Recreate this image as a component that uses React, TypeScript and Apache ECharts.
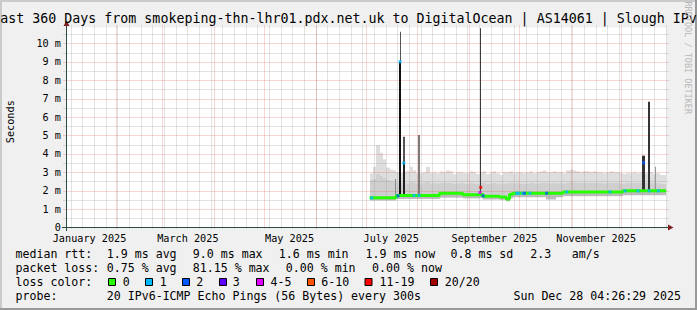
import React, { useEffect, useRef } from 'react';
import * as echarts from 'echarts';

// ---------------- data ----------------
const RANGE_START = '2025-01-02 04:26:29';
const RANGE_END = '2025-12-28 04:26:29';
const SMOKE_FIRST_BIN = '2025-07-03 00:00';
const SMOKE_BIN_DAYS = 2;

// upper edge of the smoke (ms), one value per 2-day bin
const smokeTop = [
  2.94, 3.3, 4.48, 4.05, 3.7, 3.25, 3.15, 3.1, 3.0, 2.95,
  3.0, 3.05, 3.3, 3.1, 2.95, 2.95, 3.0, 3.3, 2.95, 3.0,
  2.95, 3.05, 3.0, 3.1, 3.05, 2.9, 3.0, 3.0, 2.95, 2.95,
  3.05, 3.0, 2.9, 3.0, 3.05, 2.9, 3.0, 3.05, 2.95, 2.85,
  3.0, 3.0, 3.05, 2.95, 3.0, 3.0, 2.95, 3.0, 3.05, 2.95,
  3.0, 3.05, 3.1, 3.0, 3.0, 3.05, 3.0, 3.0, 2.95, 3.1,
  3.15, 3.1, 3.05, 3.0, 3.05, 3.05, 3.0, 3.05, 3.0, 3.0,
  2.95, 3.0, 3.05, 3.0, 3.0, 2.95, 2.9, 2.95, 2.95, 3.0,
  2.95, 3.0, 2.95, 2.95, 3.0, 2.9, 2.95, 2.85, 2.85,
];
// upper edge of the denser inner smoke band (ms)
const smokeMid = [
  2.6, 2.65, 2.9, 2.8, 2.7, 2.6, 2.55, 2.5, 2.45, 2.42,
  2.45, 2.4, 2.5, 2.45, 2.4, 2.4, 2.42, 2.5, 2.4, 2.42,
  2.4, 2.45, 2.42, 2.45, 2.42, 2.38, 2.4, 2.42, 2.4, 2.38,
  2.42, 2.4, 2.38, 2.42, 2.45, 2.38, 2.4, 2.42, 2.4, 2.35,
  2.4, 2.4, 2.42, 2.4, 2.42, 2.4, 2.38, 2.4, 2.42, 2.4,
  2.4, 2.42, 2.45, 2.42, 2.4, 2.42, 2.4, 2.42, 2.4, 2.45,
  2.48, 2.45, 2.42, 2.42, 2.45, 2.42, 2.42, 2.45, 2.42, 2.42,
  2.4, 2.42, 2.45, 2.42, 2.42, 2.4, 2.4, 2.42, 2.42, 2.45,
  2.42, 2.45, 2.42, 2.42, 2.45, 2.4, 2.42, 2.38, 2.38,
];
// lower edge of the smoke (ms)
const smokeLow = [
  1.47, 1.47, 1.47, 1.47, 1.47, 1.47, 1.47, 1.47, 1.55, 1.55,
  1.55, 1.55, 1.55, 1.55, 1.55, 1.55, 1.55, 1.55, 1.55, 1.55,
  1.55, 1.62, 1.62, 1.62, 1.62, 1.62, 1.62, 1.62, 1.58, 1.58,
  1.58, 1.58, 1.58, 1.6, 1.52, 1.52, 1.52, 1.52, 1.52, 1.5,
  1.5, 1.42, 1.58, 1.64, 1.64, 1.64, 1.64, 1.64, 1.64, 1.64,
  1.64, 1.64, 1.64, 1.52, 1.52, 1.52, 1.64, 1.64, 1.7, 1.7,
  1.7, 1.7, 1.7, 1.7, 1.7, 1.7, 1.7, 1.7, 1.7, 1.7,
  1.7, 1.7, 1.7, 1.7, 1.7, 1.7, 1.75, 1.75, 1.75, 1.75,
  1.75, 1.75, 1.75, 1.75, 1.75, 1.75, 1.75, 1.75, 1.75,
];
// median round trip time (ms)
const medianRtt = [
  1.61, 1.61, 1.61, 1.61, 1.61, 1.61, 1.61, 1.61, 1.74, 1.74,
  1.74, 1.74, 1.74, 1.74, 1.74, 1.74, 1.74, 1.74, 1.74, 1.74,
  1.74, 1.86, 1.86, 1.86, 1.86, 1.86, 1.86, 1.86, 1.78, 1.78,
  1.78, 1.78, 1.78, 1.8, 1.7, 1.7, 1.7, 1.7, 1.7, 1.65,
  1.65, 1.55, 1.8, 1.86, 1.86, 1.86, 1.86, 1.86, 1.86, 1.86,
  1.86, 1.86, 1.86, 1.86, 1.86, 1.86, 1.86, 1.86, 1.93, 1.93,
  1.93, 1.93, 1.93, 1.93, 1.93, 1.93, 1.93, 1.93, 1.93, 1.93,
  1.93, 1.93, 1.93, 1.93, 1.93, 1.93, 1.99, 1.99, 1.99, 1.99,
  1.99, 1.99, 1.99, 1.99, 1.99, 1.99, 1.99, 1.99, 1.99,
];

// moments where the median was drawn in a loss colour
const lossTimes = [
  '2025-07-04 08:00', '2025-07-20 02:00', '2025-07-21 07:00', '2025-07-23 13:00',
  '2025-07-29 17:00', '2025-08-01 17:00', '2025-09-07 06:00', '2025-09-07 18:00',
  '2025-09-09 03:00', '2025-09-29 08:00', '2025-09-30 08:00', '2025-10-02 22:00',
  '2025-10-03 22:00', '2025-10-07 07:00', '2025-10-17 07:00', '2025-10-29 07:00',
  '2025-11-24 07:00', '2025-12-03 07:00', '2025-12-11 02:00', '2025-12-14 10:00',
  '2025-12-17 17:00', '2025-12-23 07:00',
];
const lossRtt = [
  1.61, 1.72, 9.0, 3.5, 1.74, 1.74, 1.9, 2.18, 1.72, 1.86, 1.86, 1.86,
  1.86, 1.86, 1.86, 1.93, 1.93, 1.99, 1.99, 3.52, 1.99, 1.99,
];
const lossLevel = [1, 2, 1, 1, 1, 1, 4, 6, 2, 1, 1, 1, 2, 1, 2, 1, 1, 1, 1, 2, 1, 1];

// short high-latency bursts (ms range)
const spikeTimes = [
  '2025-07-18 12:00', '2025-07-21 02:00', '2025-07-21 09:00', '2025-07-23 13:00',
  '2025-07-23 13:00', '2025-08-01 14:00', '2025-09-07 12:00', '2025-12-14 10:00',
  '2025-12-17 12:00', '2025-12-21 20:00',
];
const spikeFrom = [1.65, 1.74, 9.0, 1.74, 3.5, 1.74, 1.9, 1.99, 1.99, 1.99];
const spikeTo = [2.63, 9.0, 10.63, 3.5, 4.93, 5.02, 10.82, 3.9, 6.83, 3.3];

const monthStarts = [
  '2025-02-01', '2025-03-01', '2025-04-01', '2025-05-01', '2025-06-01', '2025-07-01',
  '2025-08-01', '2025-09-01', '2025-10-01', '2025-11-01', '2025-12-01',
];
const FIRST_WEEK_LINE = '2025-01-05';
const monthLabelDates = ['2025-01-16', '2025-03-16', '2025-05-16', '2025-07-16', '2025-09-16', '2025-11-16'];
const monthLabelTexts = ['January 2025', 'March 2025', 'May 2025', 'July 2025', 'September 2025', 'November 2025'];

const Y_MAX = 10.86;
const yTickValues = [0, 1, 2, 3, 4, 5, 6, 7, 8, 9, 10];
const yTickLabels = ['0', '1 m', '2 m', '3 m', '4 m', '5 m', '6 m', '7 m', '8 m', '9 m', '10 m'];
const yMinorValues = [0.5, 1.5, 2.5, 3.5, 4.5, 5.5, 6.5, 7.5, 8.5, 9.5, 10.5];

const TITLE = 'Last 360 Days from smokeping-thn-lhr01.pdx.net.uk to DigitalOcean | AS14061 | Slough IPv6';
const rttStats = ['1.9 ms avg', '9.0 ms max', '1.6 ms min', '1.9 ms now', '0.8 ms sd', '2.3', 'am/s'];
const lossStats = ['0.75 % avg', '81.15 % max', '0.00 % min', '0.00 % now'];
const lossLegendLabels = ['0', '1', '2', '3', '4-5', '6-10', '11-19', '20/20'];
const probeText = '20 IPv6-ICMP Echo Pings (56 Bytes) every 300s';
const stampText = 'Sun Dec 28 04:26:29 2025';

// ---------------- styles / layout ----------------
const LOSS_COLORS = ['#26ff00', '#00b8ff', '#0059ff', '#5e00ff', '#dd00ff', '#ff5500', '#ff0000', '#a10000'];
const spikeStyle = [
  { w: 1, c: '#8a8a8a' }, { w: 2, c: '#111111' }, { w: 1, c: '#555555' }, { w: 2, c: '#222222' },
  { w: 2, c: '#555555' }, { w: 2, c: '#7a7a7a' }, { w: 1, c: '#3c3c3c' }, { w: 3, c: '#333333' },
  { w: 2, c: '#333333' }, { w: 1, c: '#999999' },
];
const G = { left: 66.5, top: 27.5, width: 600, height: 200 };
const MONO = '"DejaVu Sans Mono", monospace';
const F_TITLE = `13.3px ${MONO}`;
const F_LEG = `11.6px ${MONO}`;
const F_AXIS = `10.2px ${MONO}`;
const GRID_MINOR = 'rgba(143,143,143,0.5)';
const GRID_MAJOR = 'rgba(222,60,60,0.42)';
const AXIS_C = '#2c4d43';
const ARROW_C = '#7f1f1f';

const DAY = 86400000;
const ts = (s: string) => {
  const full = s.length <= 10 ? s + ' 00:00' : s;
  return Date.parse(full.replace(' ', 'T') + 'Z');
};

function txt(text: string, x: number, y: number, font: string, align = 'left', extra: any = {}) {
  return {
    type: 'text',
    z: 20,
    x,
    y,
    ...extra,
    style: {
      text, font, fill: extra.fill || '#000',
      align, verticalAlign: 'middle', textAlign: align, textVerticalAlign: 'middle',
    },
  };
}

export default function App() {
  const ref = useRef<HTMLDivElement>(null);
  useEffect(() => {
    document.body.style.margin = '0';
    if (!ref.current) return;
    const chart = echarts.init(ref.current, undefined, { renderer: 'svg' });
    const t0 = ts(RANGE_START);
    const t1 = ts(RANGE_END);
    const bin0 = ts(SMOKE_FIRST_BIN);
    const BIN = SMOKE_BIN_DAYS * DAY;

    const smokeData = smokeTop.map((top, i) => [bin0 + i * BIN, smokeLow[i], medianRtt[i], smokeMid[i], top]);
    const medianData: any[] = medianRtt.map((v, i) => [bin0 + i * BIN, v]);
    medianData.push([bin0 + medianRtt.length * BIN, medianRtt[medianRtt.length - 1]]);

    const weekLines: number[] = [];
    for (let t = ts(FIRST_WEEK_LINE); t < t1; t += 7 * DAY) weekLines.push(t);
    const vData = [
      ...weekLines.map((t) => [t, 0]),
      ...monthStarts.map((d) => [ts(d), 1]),
    ];
    const hData = [
      ...yMinorValues.map((v) => [v, 0]),
      ...yTickValues.filter((v) => v > 0).map((v) => [v, 1]),
    ];

    const graphic: any[] = [
      // frame shading
      { type: 'rect', z: 0, shape: { x: 0, y: 0, width: 697, height: 2 }, style: { fill: '#cbcbcb' } },
      { type: 'rect', z: 0, shape: { x: 0, y: 0, width: 2, height: 310 }, style: { fill: '#cbcbcb' } },
      { type: 'rect', z: 0, shape: { x: 0, y: 308, width: 697, height: 2 }, style: { fill: '#999999' } },
      { type: 'rect', z: 0, shape: { x: 695, y: 0, width: 2, height: 310 }, style: { fill: '#999999' } },
      txt(TITLE, 348.5, 18.4, F_TITLE, 'center'),
      txt('RRDTOOL / TOBI OETIKER', 688, 1.5, `8.5px ${MONO}`, 'left', { rotation: -Math.PI / 2, fill: '#b8b8b8' }),
      txt('Seconds', 10, 121.7, F_AXIS, 'center', { rotation: Math.PI / 2 }),
      // axes
      { type: 'line', z: 15, shape: { x1: 62, y1: 227.5, x2: 669, y2: 227.5 }, style: { stroke: AXIS_C, lineWidth: 1 } },
      { type: 'line', z: 15, shape: { x1: 66.5, y1: 231, x2: 66.5, y2: 25 }, style: { stroke: AXIS_C, lineWidth: 1 } },
      { type: 'polygon', z: 16, shape: { points: [[668, 224.5], [673.5, 227.5], [668, 230.5]] }, style: { fill: ARROW_C } },
      { type: 'polygon', z: 16, shape: { points: [[63.5, 26], [66.5, 20.5], [69.5, 26]] }, style: { fill: ARROW_C } },
      // legend rows
      txt('median rtt:', 15.5, 254.3, F_LEG),
      txt('packet loss:', 15.5, 268.3, F_LEG),
      txt('loss color:', 15.5, 282.3, F_LEG),
      txt('probe:', 15.5, 296.2, F_LEG),
      txt(probeText, 106.8, 296.2, F_LEG),
      txt(stampText, 681, 296.2, F_LEG, 'right'),
    ];
    const rttX = [106.8, 192.8, 278.8, 365.5, 450.5, 530.2, 571.8];
    rttStats.forEach((s, i) => graphic.push(txt(s, rttX[i], 254.3, F_LEG)));
    const lossX = [106.8, 192.8, 285.8, 372.1];
    lossStats.forEach((s, i) => graphic.push(txt(s, lossX[i], 268.3, F_LEG)));
    const boxX = [108.5, 145.5, 182.5, 219.5, 256.5, 307.5, 365, 430.5];
    const boxLabelX = [122.8, 159.8, 196.2, 232.8, 270.5, 321.2, 379.5, 444.8];
    lossLegendLabels.forEach((s, i) => {
      graphic.push({
        type: 'rect', z: 20,
        shape: { x: boxX[i], y: 278.5, width: 7, height: 7 },
        style: { fill: LOSS_COLORS[i], stroke: '#000', lineWidth: 1 },
      });
      graphic.push(txt(s, boxLabelX[i], 282.3, F_LEG));
    });

    const option: any = {
      animation: false,
      backgroundColor: '#f0f0f0',
      grid: {
        left: G.left, top: G.top, width: G.width, height: G.height,
        show: true, backgroundColor: '#ffffff', borderWidth: 0, containLabel: false, outerBoundsMode: 'none',
      },
      xAxis: {
        type: 'time', min: t0, max: t1,
        axisLine: { show: false }, axisTick: { show: false }, axisLabel: { show: false }, splitLine: { show: false },
      },
      yAxis: {
        type: 'value', min: 0, max: Y_MAX, interval: 1,
        axisLine: { show: false }, axisTick: { show: false }, splitLine: { show: false },
        axisLabel: {
          margin: 5.5, color: '#000', fontFamily: MONO, fontSize: 10.2,
          formatter: (v: number) => {
            const i = yTickValues.indexOf(v);
            return i >= 0 ? yTickLabels[i] : '';
          },
        },
      },
      series: [
        {
          type: 'custom', name: 'smoke', z: 1, data: smokeData, clip: false,
          renderItem: (params: any, api: any) => {
            const t = api.value(0);
            const x0 = Math.round(api.coord([t, 0])[0]);
            const x1 = Math.round(api.coord([t + BIN, 0])[0]);
            const y = (v: number) => api.coord([t, v])[1];
            const yLow = y(api.value(1)), yMed = y(api.value(2)), yMid = y(api.value(3)), yTop = y(api.value(4));
            const w = x1 - x0;
            return {
              type: 'group',
              children: [
                { type: 'rect', shape: { x: x0, y: yTop, width: w, height: yMid - yTop }, style: { fill: '#dedede' } },
                { type: 'rect', shape: { x: x0, y: yMid, width: w, height: yMed - yMid }, style: { fill: '#cfcfcf' } },
                { type: 'rect', shape: { x: x0, y: yMed, width: w, height: yLow - yMed }, style: { fill: '#bcbcbc' } },
              ],
            };
          },
        },
        {
          type: 'custom', name: 'hgrid', z: 2, data: hData, clip: false,
          renderItem: (params: any, api: any) => {
            const cs = params.coordSys;
            const yy = Math.round(api.coord([t0, api.value(0)])[1]) + 0.5;
            return {
              type: 'line',
              shape: { x1: cs.x - 3, y1: yy, x2: cs.x + cs.width + 2, y2: yy },
              style: { stroke: api.value(1) ? GRID_MAJOR : GRID_MINOR, lineWidth: 1, lineDash: [1, 1] },
            };
          },
        },
        {
          type: 'custom', name: 'vgrid', z: 2, data: vData, clip: false,
          renderItem: (params: any, api: any) => {
            const cs = params.coordSys;
            const xx = Math.floor(api.coord([api.value(0), 0])[0]) + 0.5;
            return {
              type: 'line',
              shape: { x1: xx, y1: cs.y - 2, x2: xx, y2: cs.y + cs.height + 2 },
              style: { stroke: api.value(1) ? GRID_MAJOR : GRID_MINOR, lineWidth: 1, lineDash: [1, 1] },
            };
          },
        },
        {
          type: 'custom', name: 'spikes', z: 3, clip: false,
          data: spikeTimes.map((d, i) => [ts(d), spikeFrom[i], spikeTo[i]]),
          renderItem: (params: any, api: any) => {
            const st = spikeStyle[params.dataIndex];
            const t = api.value(0);
            const cx = api.coord([t, 0])[0];
            const ya = api.coord([t, api.value(1)])[1];
            const yb = api.coord([t, api.value(2)])[1];
            return {
              type: 'rect',
              shape: { x: Math.round(cx - st.w / 2), y: yb, width: st.w, height: ya - yb },
              style: { fill: st.c },
            };
          },
        },
        {
          type: 'line', name: 'median', z: 4, step: 'end', showSymbol: false, symbol: 'none',
          data: medianData,
          lineStyle: { color: LOSS_COLORS[0], width: 3 },
        },
        {
          type: 'scatter', name: 'loss', z: 5, symbol: 'rect', symbolSize: [3, 3],
          data: lossTimes.map((d, i) => ({
            value: [ts(d), lossRtt[i]],
            itemStyle: { color: LOSS_COLORS[lossLevel[i]] },
          })),
        },
        {
          type: 'custom', name: 'xlabels', z: 6, clip: false,
          data: monthLabelDates.map((d) => [ts(d), 0]),
          renderItem: (params: any, api: any) => {
            const cs = params.coordSys;
            const xx = api.coord([api.value(0), 0])[0];
            return {
              type: 'text',
              x: xx,
              y: cs.y + cs.height + 10.5,
              style: {
                text: monthLabelTexts[params.dataIndex], font: F_AXIS, fill: '#000',
                align: 'center', verticalAlign: 'middle', textAlign: 'center', textVerticalAlign: 'middle',
              },
            };
          },
        },
      ],
      graphic,
    };
    chart.setOption(option);
    return () => chart.dispose();
  }, []);
  return <div ref={ref} style={{ position: 'fixed', left: 0, top: 0, width: 697, height: 310 }} />;
}
